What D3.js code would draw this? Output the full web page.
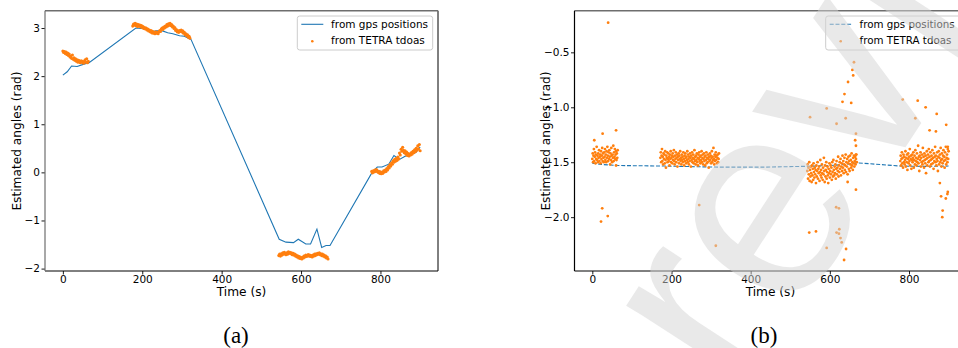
<!DOCTYPE html>
<html>
<head>
<meta charset="utf-8">
<script src="https://cdn.jsdelivr.net/npm/d3@7"></script>
<style>
  body { margin: 0; background: #fff; }
  svg { display: block; }
</style>
</head>
<body>
<script>
// ---- data ----
const xTicks = [0, 200, 400, 600, 800];
const yTicksA = [-2, -1, 0, 1, 2, 3];
const yTicksB = [-2.0, -1.5, -1.0, -0.5];

// (a) angle from gps positions
const gpsTimeA = [0, 11, 22, 36, 53, 66, 184, 197, 209, 222, 235, 251, 264, 277, 294, 306, 323,
  545, 562, 581, 593, 612, 624, 640, 652, 663, 673, 779, 792, 804, 821, 834, 848, 861, 876, 889, 900];
const gpsAngleA = [2.02, 2.09, 2.21, 2.20, 2.25, 2.28, 3.00, 2.99, 2.98, 2.92, 2.94, 2.94, 2.90, 2.88, 2.84, 2.83, 2.76,
  -1.39, -1.45, -1.46, -1.39, -1.49, -1.49, -1.18, -1.56, -1.52, -1.52, 0.00, 0.11, 0.11, 0.17, 0.35, 0.27, 0.33, 0.38, 0.41, 0.53];

// (a) tdoa estimates, one every 2 s inside each run
const tdoaStepA = 2;
const tdoaStartA = [0, 176, 544, 778];
const tdoaA1 = [2.52,2.49,2.51,2.47,2.50,2.45,2.48,2.43,2.46,2.40,2.42,2.37,2.44,2.35,2.38,2.33,2.36,2.31,2.34,2.29,
  2.33,2.30,2.28,2.32,2.29,2.31,2.27,2.30,2.34,2.29,2.36,2.28,2.31];
const tdoaA2 = [3.04,3.08,3.06,3.10,3.05,3.08,3.03,3.07,3.04,3.06,3.02,3.05,3.01,3.03,2.99,3.01,2.98,3.00,2.96,2.98,
  2.94,2.96,2.92,2.95,2.90,2.93,2.89,2.91,2.88,2.92,2.89,2.91,2.88,2.92,2.95,2.93,2.98,3.00,2.97,3.02,
  3.00,3.04,3.02,3.07,3.04,3.09,3.06,3.10,3.05,3.07,3.02,3.04,2.99,3.01,2.95,2.97,2.92,2.94,2.91,2.95,
  2.93,2.96,2.92,2.94,2.89,2.91,2.86,2.88,2.84,2.86,2.81,2.83,2.79];
const tdoaA3 = [-1.73,-1.70,-1.74,-1.69,-1.72,-1.67,-1.70,-1.66,-1.69,-1.71,-1.67,-1.70,-1.65,-1.68,-1.66,-1.69,-1.67,-1.71,-1.68,-1.72,
  -1.70,-1.74,-1.72,-1.76,-1.74,-1.78,-1.75,-1.79,-1.77,-1.80,-1.76,-1.78,-1.74,-1.76,-1.72,-1.75,-1.73,-1.71,-1.74,-1.72,
  -1.75,-1.73,-1.76,-1.72,-1.74,-1.70,-1.73,-1.69,-1.71,-1.68,-1.70,-1.67,-1.71,-1.69,-1.73,-1.70,-1.74,-1.72,-1.76,-1.74,
  -1.78,-1.76,-1.80];
const tdoaA4 = [0.02,-0.01,0.03,0.01,0.05,0.02,0.06,0.03,0.00,0.02,-0.02,0.01,-0.03,0.00,-0.02,0.03,0.01,0.05,0.02,0.08,
  0.05,0.12,0.09,0.16,0.13,0.20,0.17,0.24,0.21,0.27,0.23,0.29,0.25,0.32,0.28,0.40,0.36,0.48,0.44,0.52,
  0.46,0.41,0.45,0.38,0.42,0.35,0.39,0.34,0.38,0.36,0.41,0.38,0.44,0.41,0.47,0.43,0.50,0.46,0.55,0.49,
  0.58,0.45];

// (b) angle from gps positions
const gpsTimeB = [0, 22, 45, 66, 184, 250, 323, 430, 545, 600, 640, 668, 779, 840, 900];
const gpsAngleB = [-1.51, -1.52, -1.525, -1.53, -1.535, -1.54, -1.545, -1.545, -1.537, -1.53, -1.52, -1.505, -1.535, -1.538, -1.535];

// (b) tdoa estimates, one every second inside each run
const tdoaStepB = 1;
const tdoaStartB = [0, 172, 543, 778];
const tdoaB1 = [-1.47,-1.42,-1.50,-1.44,-1.38,-1.49,-1.45,-1.41,-1.51,-1.43,-1.47,-1.36,-1.48,-1.44,-1.50,-1.42,-1.46,-1.39,-1.49,-1.45,
  -1.43,-1.51,-1.40,-1.47,-1.44,-1.37,-1.49,-1.42,-1.46,-1.50,-1.41,-1.45,-1.38,-1.48,-1.43,-1.50,-1.40,-1.46,-1.36,-1.44,
  -1.49,-1.41,-1.47,-1.39,-1.45,-1.52,-1.42,-1.48,-1.37,-1.44,-1.50,-1.43,-1.46,-1.35,-1.49,-1.41,-1.45,-1.38,-1.47,-1.43,
  -1.40,-1.48,-1.42,-1.46,-1.39];
const tdoaB2 = [-1.46,-1.41,-1.50,-1.44,-1.38,-1.49,-1.45,-1.52,-1.42,-1.47,-1.43,-1.51,-1.40,-1.48,-1.55,-1.44,-1.46,-1.41,-1.50,-1.47,
  -1.42,-1.49,-1.45,-1.53,-1.43,-1.47,-1.40,-1.50,-1.46,-1.44,-1.51,-1.42,-1.48,-1.45,-1.39,-1.49,-1.52,-1.44,-1.47,-1.41,
  -1.50,-1.46,-1.43,-1.54,-1.45,-1.48,-1.42,-1.51,-1.44,-1.47,-1.40,-1.49,-1.46,-1.52,-1.43,-1.48,-1.45,-1.50,-1.41,-1.47,
  -1.53,-1.44,-1.49,-1.42,-1.46,-1.51,-1.45,-1.48,-1.40,-1.50,-1.43,-1.47,-1.52,-1.45,-1.49,-1.42,-1.46,-1.54,-1.44,-1.48,
  -1.41,-1.50,-1.46,-1.43,-1.51,-1.47,-1.39,-1.49,-1.45,-1.52,-1.44,-1.48,-1.42,-1.50,-1.46,-1.53,-1.43,-1.47,-1.41,-1.49,
  -1.45,-1.51,-1.44,-1.48,-1.40,-1.50,-1.46,-1.43,-1.52,-1.47,-1.42,-1.49,-1.45,-1.53,-1.44,-1.48,-1.41,-1.51,-1.46,-1.50,
  -1.43,-1.47,-1.55,-1.45,-1.49,-1.42,-1.48,-1.44,-1.51,-1.46,-1.40,-1.50,-1.45,-1.48,-1.37,-1.47,-1.52,-1.43,-1.49,-1.45,
  -1.41,-1.48,-1.44,-1.51,-1.46,-1.43,-1.50,-1.47,-1.42];
const tdoaB3 = [-1.58,-1.52,-1.65,-1.55,-1.61,-1.50,-1.67,-1.57,-1.63,-1.54,-1.60,-1.68,-1.53,-1.62,-1.56,-1.66,-1.51,-1.59,-1.64,-1.55,
  -1.61,-1.57,-1.69,-1.53,-1.63,-1.58,-1.50,-1.65,-1.56,-1.60,-1.54,-1.67,-1.59,-1.48,-1.62,-1.57,-1.64,-1.52,-1.60,-1.66,
  -1.55,-1.61,-1.46,-1.58,-1.68,-1.53,-1.63,-1.57,-1.50,-1.65,-1.59,-1.54,-1.62,-1.69,-1.56,-1.60,-1.51,-1.64,-1.58,-1.53,
  -1.61,-1.55,-1.66,-1.50,-1.59,-1.63,-1.48,-1.57,-1.62,-1.54,-1.60,-1.52,-1.65,-1.56,-1.49,-1.61,-1.55,-1.58,-1.45,-1.63,
  -1.53,-1.59,-1.50,-1.56,-1.47,-1.62,-1.54,-1.51,-1.58,-1.44,-1.55,-1.49,-1.60,-1.52,-1.46,-1.57,-1.53,-1.43,-1.59,-1.50,
  -1.54,-1.47,-1.61,-1.51,-1.45,-1.56,-1.49,-1.58,-1.44,-1.52,-1.48,-1.55,-1.42,-1.53,-1.50,-1.57,-1.46,-1.51,-1.44,-1.54,
  -1.49,-1.45,-1.52,-1.47,-1.43,-1.50];
const tdoaB4 = [-1.49,-1.44,-1.53,-1.47,-1.41,-1.51,-1.46,-1.55,-1.43,-1.50,-1.45,-1.52,-1.48,-1.40,-1.54,-1.46,-1.50,-1.43,-1.57,-1.47,
  -1.42,-1.51,-1.45,-1.49,-1.38,-1.53,-1.47,-1.44,-1.56,-1.48,-1.43,-1.50,-1.46,-1.41,-1.55,-1.48,-1.44,-1.52,-1.39,-1.49,
  -1.46,-1.53,-1.42,-1.50,-1.47,-1.35,-1.51,-1.45,-1.58,-1.44,-1.48,-1.41,-1.54,-1.46,-1.50,-1.43,-1.52,-1.37,-1.49,-1.45,
  -1.55,-1.42,-1.48,-1.51,-1.44,-1.60,-1.47,-1.40,-1.53,-1.46,-1.43,-1.50,-1.38,-1.49,-1.45,-1.54,-1.41,-1.48,-1.52,-1.44,
  -1.47,-1.39,-1.51,-1.46,-1.56,-1.42,-1.49,-1.45,-1.36,-1.50,-1.44,-1.53,-1.47,-1.41,-1.49,-1.58,-1.45,-1.40,-1.52,-1.46,
  -1.43,-1.50,-1.37,-1.48,-1.54,-1.42,-1.47,-1.51,-1.44,-1.39,-1.49,-1.45,-1.55,-1.41,-1.48,-1.36,-1.52,-1.46,-1.43,-1.50,
  -1.38,-1.47,-1.40];
// (b) isolated tdoa estimates outside the main bands [time, angle]
const tdoaOutliersB = [
  [5,-1.30],[22,-2.04],[25,-1.92],[26,-1.24],[39,-1.99],[40,-0.23],[60,-1.21],[60,-1.53],
  [270,-1.89],[312,-2.26],
  [548,-2.14],[550,-1.09],[565,-2.13],[592,-1.01],[592,-2.28],[616,-1.91],[617,-1.15],[617,-2.14],[623,-1.92],
  [623,-2.15],[624,-2.11],[627,-2.19],[630,-2.23],[632,-0.95],[636,-2.39],[637,-0.88],[640,-1.10],[641,-2.29],
  [645,-1.68],[646,-0.77],[654,-0.96],[657,-0.66],[659,-0.71],[661,-0.59],[664,-1.30],[666,-1.24],[666,-1.35],
  [666,-1.43],[666,-1.75],
  [784,-0.93],[816,-1.10],[822,-0.94],[842,-1.00],[852,-1.21],[868,-1.22],[870,-1.06],[878,-1.69],[881,-1.81],
  [884,-2.00],[885,-1.94],[893,-1.83],[894,-1.16],[897,-1.79],[898,-1.77],[898,-1.36]
];

const seriesNames = ['from gps positions', 'from TETRA tdoas'];
const captions = ['(a)', '(b)'];

// ---- drawing ----
const W = 958, H = 348;
const blue = '#1f77b4', orange = '#ff7f0e';
const font = '"DejaVu Sans", sans-serif';

const svg = d3.select('body').append('svg')
    .attr('width', W)
    .attr('height', H);

function runsToPoints(starts, step, runs) {
  const pts = [];
  runs.forEach((run, k) => run.forEach((a, i) => pts.push([starts[k] + i * step, a])));
  return pts;
}

function drawPanel(o) {
  const x = d3.scaleLinear().domain([-45, 945]).range([o.left, o.right]);
  const y = d3.scaleLinear().domain(o.yDomain).range([o.bottom, o.top]);
  const g = svg.append('g');

  g.append('clipPath').attr('id', o.id)
    .append('rect')
      .attr('x', o.left).attr('y', o.top)
      .attr('width', o.right - o.left).attr('height', o.bottom - o.top);

  const plot = g.append('g').attr('clip-path', `url(#${o.id})`);

  const line = d3.line().x(d => x(d[0])).y(d => y(d[1]));
  plot.append('path')
      .datum(o.gps)
      .attr('d', line)
      .attr('fill', 'none')
      .attr('stroke', blue)
      .attr('stroke-width', 1.1)
      .attr('stroke-dasharray', o.dashed ? '4,1.8' : null);

  plot.selectAll('circle.tdoa')
    .data(o.tdoa)
    .enter().append('circle')
      .attr('class', 'tdoa')
      .attr('cx', d => x(d[0]))
      .attr('cy', d => y(d[1]))
      .attr('r', o.dotR)
      .attr('fill', orange);

  // axes
  const xAxis = g.append('g')
      .attr('transform', `translate(0,${o.bottom})`)
      .call(d3.axisBottom(x).tickValues(xTicks).tickSize(3.5).tickPadding(1.5).tickFormat(d3.format('d')));
  const yAxis = g.append('g')
      .attr('transform', `translate(${o.left},0)`)
      .call(d3.axisLeft(y).tickValues(o.yTicks).tickSize(3.5).tickPadding(1.5).tickFormat(o.yFormat));
  [xAxis, yAxis].forEach(a => {
    a.select('.domain').remove();
    a.selectAll('line').attr('stroke', '#000').attr('stroke-width', 0.9);
    a.selectAll('text').attr('fill', '#000').style('font-family', font).style('font-size', '10.5px');
  });

  // spines
  const spine = (x1, y1, x2, y2, c, w) => g.append('line')
      .attr('x1', x1).attr('y1', y1).attr('x2', x2).attr('y2', y2)
      .attr('stroke', c).attr('stroke-width', w);
  spine(o.left, o.bottom, o.right, o.bottom, '#000', 1);
  spine(o.right, o.top, o.right, o.bottom, '#000', 1);
  spine(o.left, o.top, o.right, o.top, '#6e6e6e', 1.4);
  spine(o.left, o.top, o.left, o.bottom, o.leftSpine, 1.2);

  g.append('text')
      .attr('x', (o.left + o.right) / 2)
      .attr('y', 296)
      .attr('text-anchor', 'middle')
      .style('font-family', font).style('font-size', '12.2px')
      .text('Time (s)');

  g.append('text')
      .attr('transform', `translate(${o.left - 24.5},141) rotate(-90)`)
      .attr('text-anchor', 'middle')
      .style('font-family', font).style('font-size', '12.2px')
      .text('Estimated angles (rad)');

  // legend
  const lx = o.right - 5.3 - 135.4, ly = 16;
  const lg = g.append('g');
  lg.append('rect')
      .attr('x', lx).attr('y', ly).attr('width', 135.4).attr('height', 34).attr('rx', 2.5)
      .attr('fill', '#fff').attr('fill-opacity', 0.8)
      .attr('stroke', '#cccccc').attr('stroke-width', 1);
  lg.append('line')
      .attr('x1', lx + 4).attr('x2', lx + 26).attr('y1', ly + 8.3).attr('y2', ly + 8.3)
      .attr('stroke', blue).attr('stroke-width', 1.1)
      .attr('stroke-dasharray', o.dashed ? '4,1.8' : null);
  lg.append('circle')
      .attr('cx', lx + 15).attr('cy', ly + 25.3).attr('r', 1.3).attr('fill', orange);
  lg.selectAll('text.leg')
    .data(seriesNames)
    .enter().append('text')
      .attr('class', 'leg')
      .attr('x', lx + 33.8)
      .attr('y', (d, i) => ly + 12.3 + i * 15.8)
      .style('font-family', font).style('font-size', o.legendSize)
      .text(d => d);

  svg.append('text')
      .attr('x', o.caption[1])
      .attr('y', 343)
      .attr('text-anchor', 'middle')
      .style('font-family', '"Liberation Serif", serif').style('font-size', '23px')
      .text(o.caption[0]);
}

drawPanel({
  id: 'clipA', left: 45, right: 438, top: 10.7, bottom: 271,
  yDomain: [-2.05, 3.36], yTicks: yTicksA, yFormat: d3.format('d'),
  gps: gpsTimeA.map((t, i) => [t, gpsAngleA[i]]),
  tdoa: runsToPoints(tdoaStartA, tdoaStepA, [tdoaA1, tdoaA2, tdoaA3, tdoaA4]),
  dotR: 1.55, dashed: false, leftSpine: '#6e6e6e', legendSize: '10.5px', caption: [captions[0], 236]
});

drawPanel({
  id: 'clipB', left: 574.5, right: 966.4, top: 10.7, bottom: 271,
  yDomain: [-2.49, -0.121], yTicks: yTicksB, yFormat: d3.format('.1f'),
  gps: gpsTimeB.map((t, i) => [t, gpsAngleB[i]]),
  tdoa: runsToPoints(tdoaStartB, tdoaStepB, [tdoaB1, tdoaB2, tdoaB3, tdoaB4]).concat(tdoaOutliersB),
  dotR: 1.4, dashed: true, leftSpine: '#000', legendSize: '10.3px', caption: [captions[1], 764]
});

// light diagonal watermark lying over the right panel
svg.append('text')
    .attr('transform', 'translate(918,128) rotate(-57)')
    .attr('text-anchor', 'middle')
    .attr('fill', '#d4d4d4')
    .attr('fill-opacity', 0.5)
    .style('font-family', '"Liberation Sans", sans-serif')
    .style('font-size', '280px')
    .text('preview');
</script>
</body>
</html>
